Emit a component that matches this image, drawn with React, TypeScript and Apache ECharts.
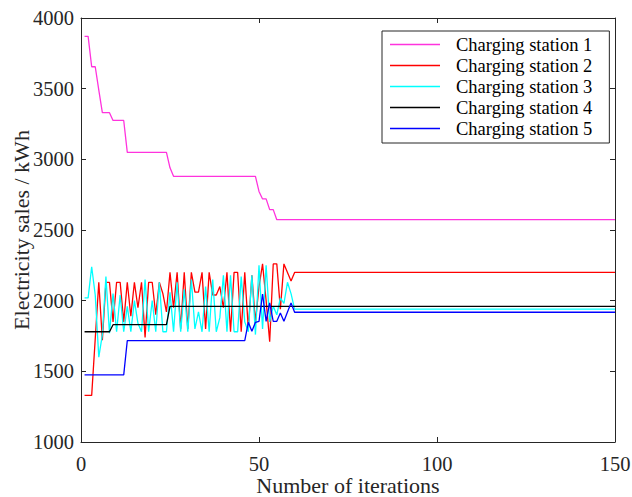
import React, { useEffect, useRef } from "react";
import * as echarts from "echarts";

const seriesNames = [
  "Charging station 1",
  "Charging station 2",
  "Charging station 3",
  "Charging station 4",
  "Charging station 5",
];

// values at iterations 1..60
const station1 = [
  3870, 3870, 3655, 3655, 3490, 3330, 3330, 3330, 3275, 3275,
  3275, 3275, 3049, 3049, 3049, 3049, 3049, 3049, 3049, 3049,
  3049, 3049, 3049, 3049, 2940, 2880, 2880, 2880, 2880, 2880,
  2880, 2880, 2880, 2880, 2880, 2880, 2880, 2880, 2880, 2880,
  2880, 2880, 2880, 2880, 2880, 2880, 2880, 2880, 2880, 2773,
  2720, 2720, 2644, 2644, 2573, 2573, 2573, 2573, 2573, 2573,
];
const station2 = [
  1330, 1330, 1330, 1730, 2130, 1720, 2130, 2130, 1850, 2130,
  2130, 1850, 2130, 1890, 2130, 1950, 2130, 1740, 2130, 2130,
  1900, 2130, 2050, 1920, 2200, 1950, 2200, 1800, 2200, 1800,
  2200, 2060, 2060, 2200, 1800, 2200, 2040, 2040, 2100, 1950,
  2200, 1780, 2200, 2200, 1780, 2200, 1800, 2180, 1850, 2100,
  2260, 2000, 1710, 2260, 2260, 1940, 2260, 2200, 2140, 2200,
];
const station3 = [
  2020, 2020, 2240, 2040, 1600, 1760, 2170, 1770, 2050, 1780,
  2040, 1780, 1960, 1780, 2000, 1840, 1780, 2150, 1780, 2000,
  1780, 2130, 1780, 1780, 2060, 1780, 2130, 1780, 2080, 1780,
  2150, 1800, 1920, 1780, 2100, 1780, 2150, 1780, 1880, 2180,
  1780, 2180, 1780, 1780, 2170, 1850, 1780, 2180, 1760, 2250,
  1800, 2250, 1850, 1960, 1900, 2020, 1980, 2130, 2050, 1940,
];
const station4 = [
  1780, 1780, 1780, 1780, 1780, 1780, 1780, 1780, 1830, 1830,
  1830, 1830, 1830, 1830, 1830, 1830, 1830, 1830, 1830, 1830,
  1830, 1830, 1830, 1830, 1960, 1960, 1960, 1960, 1960, 1960,
  1960, 1960, 1960, 1960, 1960, 1960, 1960, 1960, 1960, 1960,
  1960, 1960, 1960, 1960, 1960, 1960, 1960, 1960, 1960, 1960,
  1960, 1960, 1960, 1960, 1960, 1960, 1960, 1960, 1960, 1960,
];
const station5 = [
  1475, 1475, 1475, 1475, 1475, 1475, 1475, 1475, 1475, 1475,
  1475, 1475, 1717, 1717, 1717, 1717, 1717, 1717, 1717, 1717,
  1717, 1717, 1717, 1717, 1717, 1717, 1717, 1717, 1717, 1717,
  1717, 1717, 1717, 1717, 1717, 1717, 1717, 1717, 1717, 1717,
  1717, 1717, 1717, 1717, 1717, 1717, 1847, 1783, 1847, 1854,
  2047, 1854, 1984, 1854, 1854, 1913, 1854, 1920, 1984, 1918,
];
// converged values held until the last iteration
const finalIteration = 150;
const finalValues = [2573, 2200, 1940, 1960, 1918];

const colors = ["#ff33dd", "#ff0000", "#00ffff", "#000000", "#0000ff"];

const allStations = [station1, station2, station3, station4, station5];

const FONT = "'Liberation Serif', 'Times New Roman', serif";
const AXIS_COLOR = "#262626";

export default function App() {
  const ref = useRef<HTMLDivElement>(null);
  useEffect(() => {
    if (!ref.current) return;
    const chart = echarts.init(ref.current, undefined, { renderer: "svg" });
    const series = allStations.map((vals, s) => ({
      name: seriesNames[s],
      type: "line",
      xAxisIndex: 0,
      yAxisIndex: 0,
      showSymbol: false,
      symbol: "none",
      lineStyle: { width: 1.3, color: colors[s] },
      itemStyle: { color: colors[s] },
      data: [
        ...vals.map((v, k) => [k + 1, v]),
        [finalIteration, finalValues[s]],
      ],
    }));
    const axisCommon = {
      axisLine: { show: true, onZero: false, lineStyle: { color: AXIS_COLOR, width: 1 } },
      axisTick: { show: true, inside: true, length: 5, lineStyle: { color: AXIS_COLOR } },
      splitLine: { show: false },
    };
    chart.setOption({
      animation: false,
      backgroundColor: "#ffffff",
      textStyle: { fontFamily: FONT },
      grid: {
        left: 81,
        right: 17,
        top: 18,
        bottom: 55,
        containLabel: false,
        outerBoundsMode: "none",
      },
      legend: {
        orient: "vertical",
        left: 382,
        top: 31,
        data: seriesNames.map((n, s) => ({ name: n, icon: "rect", itemStyle: { color: colors[s] } })),
        itemWidth: 50,
        itemHeight: 1.5,
        itemGap: 2,
        padding: [4, 17, 5, 8],
        borderColor: AXIS_COLOR,
        borderWidth: 1,
        backgroundColor: "#ffffff",
        textStyle: {
          fontFamily: FONT,
          fontSize: 18.5,
          color: "#000000",
          padding: [0, 0, 0, 11],
          lineHeight: 18,
        },
      },
      xAxis: [
        {
          type: "value",
          min: 0,
          max: 150,
          interval: 50,
          position: "bottom",
          name: "Number of iterations",
          nameLocation: "middle",
          nameGap: 32,
          nameMoveOverlap: false,
          nameTextStyle: { fontFamily: FONT, fontSize: 22, color: AXIS_COLOR },
          axisLabel: { fontFamily: FONT, fontSize: 20.5, color: AXIS_COLOR, margin: 11 },
          ...axisCommon,
        },
        {
          type: "value",
          min: 0,
          max: 150,
          interval: 50,
          position: "top",
          axisLabel: { show: false },
          ...axisCommon,
        },
      ],
      yAxis: [
        {
          type: "value",
          min: 1000,
          max: 4000,
          interval: 500,
          position: "left",
          name: "Electricity sales / kWh",
          nameLocation: "middle",
          nameGap: 49,
          nameMoveOverlap: false,
          nameTextStyle: { fontFamily: FONT, fontSize: 22, color: AXIS_COLOR },
          axisLabel: {
            fontFamily: FONT,
            fontSize: 20.5,
            color: AXIS_COLOR,
            margin: 7,
            formatter: (v: number) => String(v),
          },
          ...axisCommon,
        },
        {
          type: "value",
          min: 1000,
          max: 4000,
          interval: 500,
          position: "right",
          axisLabel: { show: false },
          ...axisCommon,
        },
      ],
      series,
    });
    return () => chart.dispose();
  }, []);
  return <div ref={ref} style={{ width: 632, height: 497, position: "absolute", left: 0, top: 0 }} />;
}
